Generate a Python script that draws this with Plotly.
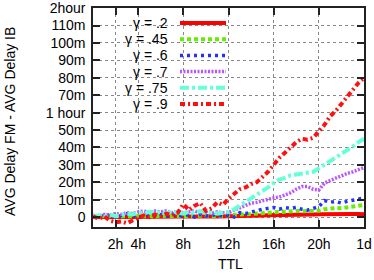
import plotly.graph_objects as go

# TTL in hours
ttl_hours = [i * 0.5 for i in range(49)]

# Delay difference in minutes
g20 = [0,0.1,0,0.2,0.1,0,0.1,0.2,0.1,0.2,0.1,0.2,0.2,0.3,0.2,0.3,0.3,0.2,0.3,0.3,0.4,0.3,0.4,0.4,
       0.5,0.6,0.6,0.7,0.8,0.8,0.9,1.0,1.0,1.1,1.2,1.2,1.3,1.4,1.4,1.5,1.6,1.7,1.8,1.8,1.9,1.9,1.8,1.7,1.6]
g45 = [0.3,0.5,0.2,0.6,0.4,0.7,0.5,0.3,0.8,0.5,0.6,0.4,0.7,0.5,0.8,0.6,0.5,0.7,0.4,0.8,0.6,0.9,0.7,0.8,
       1.0,1.3,1.6,1.8,2.0,2.4,2.6,2.8,3.0,3.2,3.4,3.3,3.5,3.4,3.6,3.3,3.6,4.5,5.0,5.2,5.1,5.5,6.0,6.5,7.0]
g60 = [0,1,0.5,1.5,0,1,2,0.5,1.5,0.5,2,1,1.5,0.5,2,1,0.5,1.5,0,1.5,0.5,1,1.5,0.5,
       1,0,2.5,2,3,4,4.5,5,5.5,4.5,5.5,5,5.5,4.5,4,5,6,9.5,8.5,9,8,9,9.5,10.5,11]
g70 = [1,0.5,1.5,1,2,1.5,2.5,2,3,3.5,2.5,3.5,3,3.5,2.5,3,2.5,3,3.5,2.5,3,2,3,2.5,
       2.5,4,5.5,7,8,8.5,9.5,10,11,11.5,12.5,14,16,17.5,17.5,16,15.5,19.5,21,22.5,24,25,26,27.5,28.5]
g75 = [0.5,1,0,1.5,0.5,1,2,1.5,2.5,2,3,2.5,3,2,3.5,2.5,2,3,2.5,3.5,2.5,3,2,2.5,
       3,4.5,6.5,8.5,11,13,15,17,19.5,21.5,22.5,24,24.5,25,25.5,26,28,30,32.5,34.5,36.5,38.5,40.5,43,45]
g90 = [0.5,-1,0.5,-2,-3,-2.5,-3.5,-2,-1,1,0,1.5,0.5,2,1,2.5,7.5,4,6.5,8,3.5,5,8.5,7,
       10.5,13,16,17,19,20,23,26,30,34,37,40,43,45,44.5,45.5,49,53,58,61,65,69,73,77,80]

series_names = ["γ = .2", "γ = .45", "γ = .6", "γ = .7", "γ = .75", "γ = .9"]
series_values = [g20, g45, g60, g70, g75, g90]
colors = ["#ff0000", "#66ee00", "#2233ff", "#bb55ff", "#66ffd8", "#ff1010"]
dashes = ["solid", "4px,3px", "3px,4px", "2px,1.5px", "9px,3px,3px,3px", "5px,3px,2px,3px"]
widths = [4, 4, 3.5, 3.5, 4, 4]

x_tick_vals = [2, 4, 8, 12, 16, 20, 24]
x_tick_text = ["2h", "4h", "8h", "12h", "16h", "20h", "1d"]
y_tick_vals = [0, 10, 20, 30, 40, 50, 60, 70, 80, 90, 100, 110, 120]
y_tick_text = ["0", "10m", "20m", "30m", "40m", "50m", "1 hour", "70m", "80m", "90m", "100m", "110m", "2hour"]

FONT = "Liberation Sans"
L, R, T, B = 93, 364, 8, 227
W, H = 374, 280
pw, ph = R - L, B - T

def px(x):
    return (x - L) / pw

def py(y):
    return (B - y) / ph

fig = go.Figure()
for name, vals, c, d, w in zip(series_names, series_values, colors, dashes, widths):
    fig.add_trace(go.Scatter(x=ttl_hours, y=vals, mode="lines", name=name,
                             line=dict(color=c, dash=d, width=w), showlegend=False))

# custom gnuplot-style key
annotations = []
shapes = []
for i, (name, c, d, w) in enumerate(zip(series_names, colors, dashes, widths)):
    yy = 23 + 16.2 * i
    annotations.append(dict(x=px(169), y=py(yy), xref="paper", yref="paper", text=name,
                            showarrow=False, xanchor="right", yanchor="middle", borderpad=0,
                            font=dict(family=FONT, size=14, color="black")))
    shapes.append(dict(type="line", xref="paper", yref="paper", x0=px(180), x1=px(226),
                       y0=py(yy), y1=py(yy), line=dict(color=c, dash=d, width=w)))

annotations.append(dict(x=px(10), y=py(122), xref="paper", yref="paper",
                        text="AVG Delay FM - AVG Delay IB", textangle=-90, showarrow=False,
                        xanchor="center", yanchor="middle",
                        font=dict(family=FONT, size=14, color="black")))
annotations.append(dict(x=px(230), y=py(264), xref="paper", yref="paper", text="TTL",
                        showarrow=False, xanchor="center", yanchor="middle",
                        font=dict(family=FONT, size=14, color="black")))

axis_common = dict(showline=True, linecolor="#222", linewidth=1.5, mirror="ticks",
                   ticks="inside", ticklen=7, tickwidth=1.5, tickcolor="#222",
                   showgrid=True, gridcolor="#888", griddash="dot", gridwidth=1,
                   zeroline=False, ticklabeloverflow="allow",
                   tickfont=dict(family=FONT, size=14, color="black"))

fig.update_layout(
    width=W, height=H,
    margin=dict(l=L, r=W - R, t=T, b=H - B, autoexpand=False),
    paper_bgcolor="white", plot_bgcolor="white",
    xaxis=dict(range=[0, 24], tickvals=x_tick_vals, ticktext=x_tick_text,
               ticklabelstandoff=3, **axis_common),
    yaxis=dict(range=[-5.7, 120.1], tickvals=y_tick_vals, ticktext=y_tick_text,
               ticklabelstandoff=3, **axis_common),
    annotations=annotations, shapes=shapes, showlegend=False,
)

fig.write_html("out.html", config={"displayModeBar": False},
               post_script="document.body.style.margin='0px';")
